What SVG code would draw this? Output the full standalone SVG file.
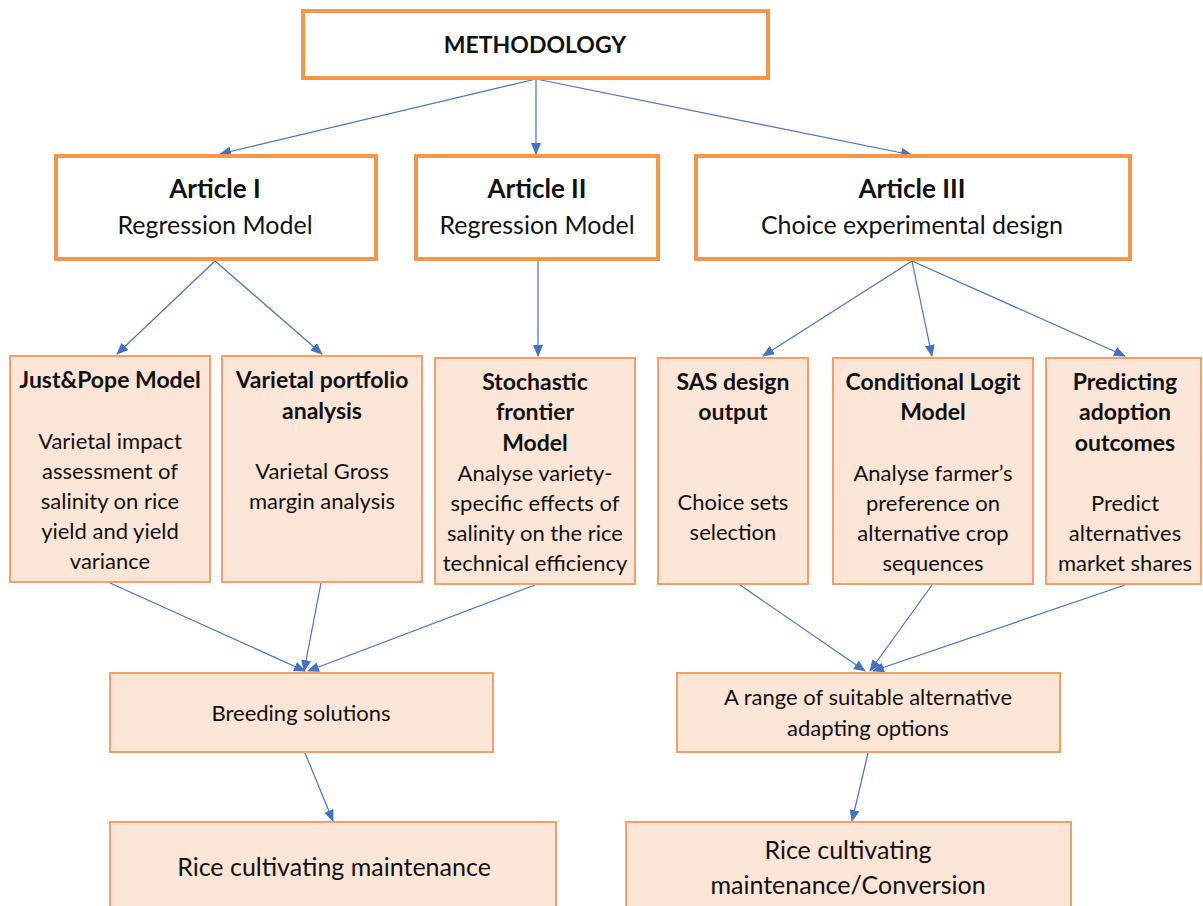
<svg xmlns="http://www.w3.org/2000/svg" width="1203" height="906" viewBox="0 0 1203 906">
<style>
.top{fill:#FFFFFF;stroke:#F79646;stroke-width:4}
.box{fill:#FBE5D6;stroke:#F0A06A;stroke-width:2}
text{font-family:Lato,"Open Sans","Liberation Sans",sans-serif;fill:#111;text-anchor:middle}
.h{font-weight:bold;font-size:23px}
.b{font-size:22px}
.t{font-weight:bold;font-size:23px}
.ah{font-weight:bold;font-size:26px}
.ab{font-size:25px}
.f{font-size:25px}
.c{stroke:#4472C4;stroke-width:1.2;fill:none;marker-end:url(#ah)}
</style>
<defs>
<marker id="ah" markerWidth="12" markerHeight="10" refX="11" refY="5" orient="auto" markerUnits="userSpaceOnUse">
<path d="M0,0 L12,5 L0,10 Z" fill="#4472C4"/>
</marker>
</defs>
<rect width="1203" height="906" fill="#FFFFFF"/>
<g id="connectors">
<line class="c" x1="536" y1="79" x2="220" y2="154"/>
<line class="c" x1="536" y1="79" x2="536" y2="154"/>
<line class="c" x1="536" y1="79" x2="912" y2="155"/>
<line class="c" x1="215" y1="261" x2="117" y2="354"/>
<line class="c" x1="215" y1="261" x2="322" y2="354"/>
<line class="c" x1="538" y1="261" x2="538" y2="356"/>
<line class="c" x1="912" y1="261" x2="763" y2="356"/>
<line class="c" x1="912" y1="261" x2="932" y2="356"/>
<line class="c" x1="912" y1="261" x2="1125" y2="356"/>
<line class="c" x1="110" y1="583" x2="305" y2="671"/>
<line class="c" x1="321" y1="583" x2="304" y2="671"/>
<line class="c" x1="535" y1="585" x2="308" y2="671"/>
<line class="c" x1="740" y1="585" x2="865" y2="671"/>
<line class="c" x1="932" y1="585" x2="870" y2="671"/>
<line class="c" x1="1125" y1="585" x2="873" y2="671"/>
<line class="c" x1="305" y1="753" x2="333" y2="821"/>
<line class="c" x1="868" y1="753" x2="852" y2="821"/>
</g>
<g id="methodology">
<rect class="top" x="303" y="11" width="465" height="67"/>
<text class="t" x="535" y="53">METHODOLOGY</text>
</g>
<g id="article1">
<rect class="top" x="56" y="156" width="320" height="103"/>
<text class="ah" x="215" y="198">Article I</text>
<text class="ab" x="215" y="234">Regression Model</text>
</g>
<g id="article2">
<rect class="top" x="416" y="156" width="242" height="103"/>
<text class="ah" x="537" y="198">Article II</text>
<text class="ab" x="537" y="234">Regression Model</text>
</g>
<g id="article3">
<rect class="top" x="696" y="156" width="434" height="103"/>
<text class="ah" x="912" y="198">Article III</text>
<text class="ab" x="912" y="234">Choice experimental design</text>
</g>
<g id="justpope">
<rect class="box" x="10" y="356" width="200" height="226"/>
<text class="h" x="110" y="388">Just&amp;Pope Model</text>
<text class="b" x="110" y="449">Varietal impact</text>
<text class="b" x="110" y="479">assessment of</text>
<text class="b" x="110" y="509">salinity on rice</text>
<text class="b" x="110" y="539">yield and yield</text>
<text class="b" x="110" y="569">variance</text>
</g>
<g id="portfolio">
<rect class="box" x="222" y="356" width="200" height="226"/>
<text class="h" x="322" y="388">Varietal portfolio</text>
<text class="h" x="322" y="419">analysis</text>
<text class="b" x="322" y="479">Varietal Gross</text>
<text class="b" x="322" y="509">margin analysis</text>
</g>
<g id="stochastic">
<rect class="box" x="435" y="358" width="200" height="226"/>
<text class="h" x="535" y="390">Stochastic</text>
<text class="h" x="535" y="420">frontier</text>
<text class="h" x="535" y="451">Model</text>
<text class="b" x="535" y="481">Analyse variety-</text>
<text class="b" x="535" y="511">specific effects of</text>
<text class="b" x="535" y="541">salinity on the rice</text>
<text class="b" x="535" y="571">technical efficiency</text>
</g>
<g id="sas">
<rect class="box" x="658" y="358" width="150" height="226"/>
<text class="h" x="733" y="390">SAS design</text>
<text class="h" x="733" y="420">output</text>
<text class="b" x="733" y="510">Choice sets</text>
<text class="b" x="733" y="540">selection</text>
</g>
<g id="clogit">
<rect class="box" x="833" y="358" width="200" height="226"/>
<text class="h" x="933" y="390">Conditional Logit</text>
<text class="h" x="933" y="420">Model</text>
<text class="b" x="933" y="481">Analyse farmer’s</text>
<text class="b" x="933" y="511">preference on</text>
<text class="b" x="933" y="541">alternative crop</text>
<text class="b" x="933" y="571">sequences</text>
</g>
<g id="predicting">
<rect class="box" x="1046" y="358" width="155" height="226"/>
<text class="h" x="1125" y="390">Predicting</text>
<text class="h" x="1125" y="420">adoption</text>
<text class="h" x="1125" y="451">outcomes</text>
<text class="b" x="1125" y="511">Predict</text>
<text class="b" x="1125" y="541">alternatives</text>
<text class="b" x="1125" y="571">market shares</text>
</g>
<g id="breeding">
<rect class="box" x="110" y="673" width="383" height="79"/>
<text class="b" x="301" y="721">Breeding solutions</text>
</g>
<g id="range">
<rect class="box" x="677" y="673" width="383" height="79"/>
<text class="b" x="868" y="705">A range of suitable alternative</text>
<text class="b" x="868" y="736">adapting options</text>
</g>
<g id="ricemaint">
<rect class="box" x="110" y="822" width="446" height="100"/>
<text class="f" x="334" y="876">Rice cultivating maintenance</text>
</g>
<g id="riceconv">
<rect class="box" x="626" y="822" width="445" height="100"/>
<text class="f" x="848" y="859">Rice cultivating</text>
<text class="f" x="848" y="894">maintenance/Conversion</text>
</g>
</svg>
